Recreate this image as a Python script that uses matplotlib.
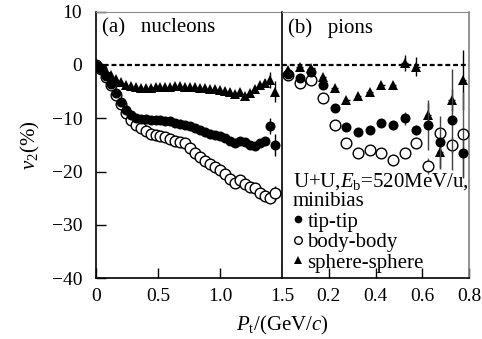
import numpy as np
import matplotlib.pyplot as plt
from matplotlib.lines import Line2D

plt.rcParams['font.family'] = ['Liberation Serif', 'DejaVu Serif']
plt.rcParams['mathtext.fontset'] = 'custom'
plt.rcParams['mathtext.rm'] = 'Liberation Serif'
plt.rcParams['mathtext.it'] = 'Liberation Serif:italic'

# ---- (a) nucleons ----
pt_n = np.arange(0, 1.45, 0.04)
tip_n = [0, -0.8, -2.0, -3.5, -5.2, -7.0, -8.4, -9.4, -9.9, -10.1, -10.2, -10.3,
         -10.4, -10.4, -10.5, -10.6, -10.8, -11.0, -11.3, -11.5, -11.9, -12.3,
         -12.6, -12.9, -13.1, -13.4, -13.7, -14.2, -14.6, -14.2, -14.5, -15.0,
         -15.2, -14.6, -14.3, -11.5, -15.0]
body_n = [0, -0.8, -2.3, -3.8, -5.6, -7.3, -9.0, -10.4, -11.2, -11.8, -12.4, -12.9,
          -13.2, -13.4, -13.6, -13.9, -14.2, -14.4, -14.7, -15.6, -16.6, -17.3,
          -18.0, -18.5, -19.2, -19.8, -20.5, -21.5, -22.1, -21.6, -22.3, -22.9,
          -23.1, -24.0, -24.6, -24.9, -24.0]
sph_n = [0, -0.5, -1.2, -1.9, -2.6, -3.2, -3.7, -4.0, -4.2, -4.3, -4.3, -4.3,
         -4.2, -4.2, -4.1, -4.1, -4.0, -4.0, -4.1, -4.1, -4.2, -4.3, -4.4, -4.5,
         -4.6, -4.7, -4.9, -5.0, -5.4, -5.0, -5.8, -5.3, -4.6, -3.8, -3.3, -2.8, -5.0]
tip_n_err = [0.3] * 33 + [0.5, 0.6, 1.5, 2.0]
body_n_err = [0.3] * 33 + [0.5, 0.6, 1.0, 1.3]
sph_n_err = [0.3] * 33 + [0.5, 0.6, 1.5, 2.0]

# ---- (b) pions ----
pt_p = [0.025, 0.075, 0.125, 0.175, 0.225, 0.275, 0.325, 0.375,
        0.425, 0.475, 0.525, 0.575, 0.625, 0.675, 0.725, 0.775]
tip_p = [-1.6, -2.5, -1.25, -3.75, -8.1, -11.6, -12.5, -12.2,
         -10.9, -11.25, -10.0, -12.2, -11.25, -14.5, -10.3, -16.6]
body_p = [-1.8, -3.4, -2.8, -6.25, -11.25, -14.7, -16.6, -15.9,
          -16.6, -17.8, -16.6, -14.7, -19.0, -12.8, -15.0, -13.0]
sph_p = [-0.9, -0.3, -0.6, -2.2, -4.4, -6.6, -5.9, -5.0,
         -3.75, -3.75, 0.3, -0.3, -9.3, -16.3, -6.6, -2.8]
tip_p_err = [0.3, 0.3, 0.3, 0.4, 0.4, 0.4, 0.4, 0.5, 0.5, 0.5, 1.2, 1.0, 4.7, 5.0, 9.5, 4.6]
body_p_err = [0.3, 0.3, 0.3, 0.4, 0.4, 0.4, 0.4, 0.5, 0.5, 0.5, 0.6, 0.8, 1.5, 1.0, 1.5, 8.0]
sph_p_err = [0.3, 0.3, 0.3, 0.4, 0.4, 0.4, 0.4, 0.5, 0.5, 0.5, 1.5, 1.8, 2.2, 3.0, 2.0, 5.6]

fig = plt.figure(figsize=(4.82, 3.39), dpi=100)
ax1 = fig.add_axes([0.1992, 0.1799, 0.3859, 0.7855])
ax2 = fig.add_axes([0.5851, 0.1799, 0.3880, 0.7855])

ms = 7.2
for ax in (ax1, ax2):
    ax.axhline(0, color='black', lw=1.6, ls=(0, (2.2, 1.3)), zorder=1)

# nucleons
ax1.errorbar(pt_n, sph_n, yerr=sph_n_err, fmt='^', color='black', ms=ms, mew=0,
             elinewidth=1, capsize=0, zorder=3)
ax1.errorbar(pt_n, body_n, yerr=body_n_err, fmt='o', mfc='white', mec='black',
             ecolor='black', ms=ms + 0.5, mew=1, elinewidth=1, capsize=0, zorder=4)
ax1.errorbar(pt_n, tip_n, yerr=tip_n_err, fmt='o', color='black', ms=ms, mew=0,
             elinewidth=1, capsize=0, zorder=5)

# pions
ax2.errorbar(pt_p, sph_p, yerr=sph_p_err, xerr=0.014, fmt='^', color='black', ms=ms,
             mew=0, elinewidth=1, capsize=0, zorder=3)
ax2.errorbar(pt_p, body_p, yerr=body_p_err, fmt='o', mfc='white', mec='black',
             ecolor='0.35', ms=ms + 0.5, mew=1, elinewidth=1, capsize=0, zorder=4)
ax2.errorbar(pt_p, tip_p, yerr=tip_p_err, fmt='o', color='black', ecolor='0.25',
             ms=ms, mew=0, elinewidth=1, capsize=0, zorder=5)

ax1.set_xlim(0, 1.5)
ax2.set_xlim(0, 0.8)
for ax in (ax1, ax2):
    ax.set_ylim(-40, 10)
    ax.spines['top'].set_color('0.55')
    ax.spines['top'].set_linewidth(0.8)
    ax.spines['left'].set_linewidth(1.2)
    ax.spines['bottom'].set_linewidth(1.2)
    ax.spines['right'].set_linewidth(1.2)
ax2.spines['right'].set_color('0.5')
ax1.spines['right'].set_visible(False)

ax1.set_xticks([0, 0.5, 1.0, 1.5])
ax1.set_xticklabels(['0', '0.5', '1.0', '1.5'])
ax2.set_xticks([0.2, 0.4, 0.6, 0.8])
ax2.set_xticklabels(['0.2', '0.4', '0.6', '0.8'])
ax1.set_yticks([-40, -30, -20, -10, 0, 10])
ax1.tick_params(axis='both', direction='in', length=7, width=1, labelsize=14)
ax1.tick_params(axis='y', pad=10)
ax1.tick_params(axis='x', pad=7)
ax2.tick_params(axis='x', direction='in', length=7, width=1, labelsize=14, pad=7)
ax2.tick_params(axis='y', left=False, labelleft=False)

ax1.text(0.03, 0.94, '(a)   nucleons', transform=ax1.transAxes, fontsize=15,
         va='center', ha='left')
ax2.text(0.03, 0.94, '(b)   pions', transform=ax2.transAxes, fontsize=15,
         va='center', ha='left')

handles = [
    Line2D([], [], marker='o', ls='none', color='black', ms=5.5, mew=0),
    Line2D([], [], marker='o', ls='none', mfc='white', mec='black', ms=5.5, mew=1),
    Line2D([], [], marker='^', ls='none', color='black', ms=5.5, mew=0),
]
leg = ax2.legend(handles, ['tip-tip', 'body-body', 'sphere-sphere'],
                 title='U+U,$E_\\mathrm{b}$=520MeV/u,\nminibias', alignment='left',
                 loc='lower left', bbox_to_anchor=(-0.02, -0.035), frameon=False,
                 fontsize=15, title_fontsize=15, handlelength=0.5,
                 handletextpad=0.2, labelspacing=0.05, borderpad=0.2)
leg.get_title().set_linespacing(1.0)

fig.text(282 / 482, 1 - 325 / 339, '$P_\\mathrm{t}$/(GeV/$c$)', fontsize=15,
         ha='center', va='center')
fig.text(30 / 482, 1 - 145 / 339, '$v_2$(%)', fontsize=15, ha='center',
         va='center', rotation=90)

fig.savefig('out.png', dpi=100)
